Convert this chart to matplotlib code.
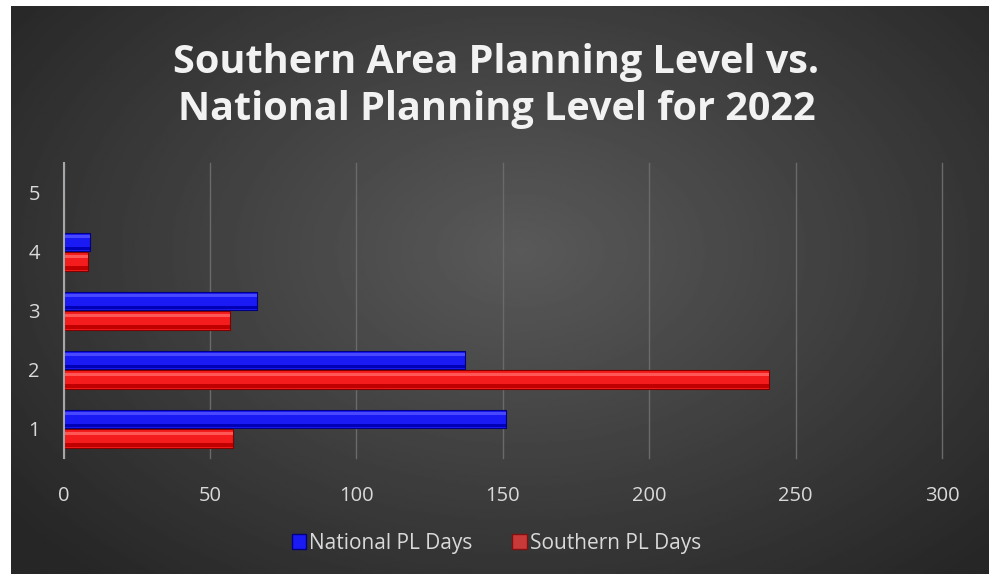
import numpy as np
import matplotlib.pyplot as plt
from matplotlib.patches import Rectangle

categories = [1, 2, 3, 4, 5]
national = [151, 137, 66, 9, 0]
southern = [58, 241, 57, 8.5, 0]
xticks = [0, 50, 100, 150, 200, 250, 300]

plt.rcParams['font.family'] = ['Open Sans', 'DejaVu Sans']

fig = plt.figure(figsize=(9.93, 5.77), dpi=100)
fig.patch.set_facecolor('white')

# dark radial background of the chart area
bg = fig.add_axes([11 / 993, 3 / 577, 978 / 993, 568 / 577])
yy, xx = np.mgrid[0:300, 0:500]
r = np.sqrt(((xx - 260) / 330.0) ** 2 + ((yy - 170) / 230.0) ** 2)
r = np.clip(r, 0, 1)
bg.imshow(0.35 - 0.2 * r, cmap='gray', vmin=0, vmax=1, aspect='auto',
          extent=[0, 1, 0, 1], origin='lower')
bg.set_axis_off()

ax = fig.add_axes([63.5 / 993, 1 - 458 / 577, (942 - 63.5) / 993, 295 / 577])
ax.patch.set_alpha(0)

h = 0.31
y = np.array(categories)
yb = y + 0.16
yr = y - 0.17


def bevel_bars(ypos, vals, main, light, dark, edge, label):
    ax.barh(ypos, vals, height=h, color=main, edgecolor=edge, linewidth=0.8,
            label=label, zorder=3)
    ax.barh(ypos + h * 0.3, vals, height=h * 0.16, color=light, zorder=4)
    ax.barh(ypos - h * 0.36, vals, height=h * 0.2, color=dark, zorder=4)


bevel_bars(yb, national, '#1a1af5', '#4848ff', '#0000b4', '#000080',
           'National PL Days')
bevel_bars(yr, southern, '#f41c1c', '#ff5656', '#c00000', '#800000',
           'Southern PL Days')

ax.set_xlim(0, 300)
ax.set_ylim(0.5, 5.5)
ax.set_xticks(xticks)
ax.set_yticks(categories)
ax.tick_params(length=0, colors='#d9d9d9', labelsize=14.5)
ax.tick_params(axis='y', pad=17)
ax.tick_params(axis='x', pad=20)
ax.grid(axis='x', color='#6a6a6a', linewidth=1, zorder=0)
for gl in ax.get_xgridlines():
    gl.set_clip_on(False)
ax.set_axisbelow(True)
for s in ['top', 'right', 'bottom']:
    ax.spines[s].set_visible(False)
ax.spines['left'].set_color('#a6a6a6')
ax.spines['left'].set_linewidth(1.5)
ax.spines['left'].set_zorder(5)

handles = [Rectangle((0, 0), 1, 1, facecolor='#1a1af5', edgecolor='#000080'),
           Rectangle((0, 0), 1, 1, facecolor='#c83a3a', edgecolor='#801010')]
leg = fig.legend(handles, ['National PL Days', 'Southern PL Days'],
                 loc='center', bbox_to_anchor=(0.5, 1 - 543 / 577), ncol=2,
                 frameon=False, fontsize=15, labelcolor='#d9d9d9',
                 handlelength=0.7, handleheight=0.7, handletextpad=0.15,
                 columnspacing=1.9)

fig.text(0.5, 1 - 86 / 577,
         'Southern Area Planning Level vs.\nNational Planning Level for 2022',
         ha='center', va='center', color='#f2f2f2', fontsize=28.5,
         fontweight='bold', linespacing=1.25)

fig.savefig('out.png', dpi=100)
